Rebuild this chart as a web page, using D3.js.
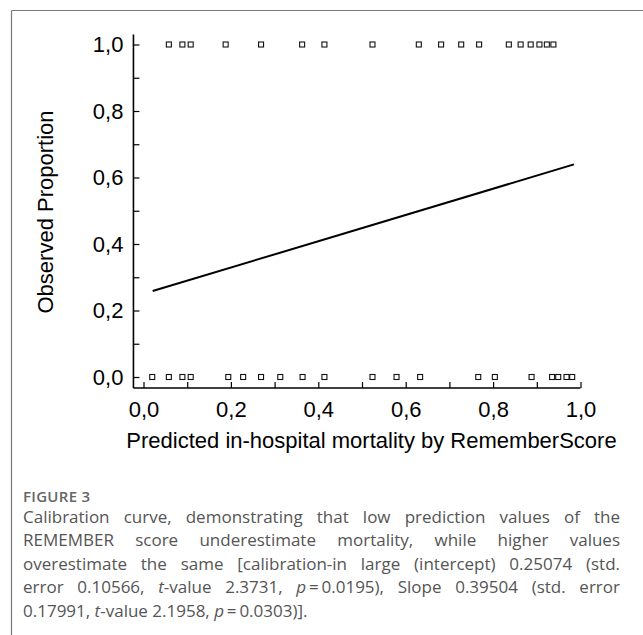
<!DOCTYPE html>
<html>
<head>
<meta charset="utf-8">
<script src="https://cdn.jsdelivr.net/npm/d3@7"></script>
<style>
body { margin: 0; background: #fff; }
#wrap { position: relative; width: 643px; height: 635px; overflow: hidden; }
#wrap svg { position: absolute; left: 0; top: 0; }
.fig { position: absolute; left: 23px; top: 486px; font-family: "Open Sans"; font-size: 15px; font-weight: 600; color: #666; letter-spacing: 0.3px; }
.cap { position: absolute; left: 23px; width: 597px; font-family: "Open Sans"; font-size: 17px; color: #555; white-space: nowrap; }
.cap.j { text-align: justify; text-align-last: justify; white-space: normal; }
</style>
</head>
<body>
<div id="wrap"></div>
<script>
/// calibration plot ///

// observed = 1 (deaths), predicted values
const topX = [0.058, 0.089, 0.108, 0.188, 0.269, 0.363, 0.414, 0.524, 0.630, 0.681,
              0.727, 0.768, 0.836, 0.863, 0.886, 0.906, 0.923, 0.938];
// observed = 0 (survivors)
const bottomX = [0.020, 0.058, 0.089, 0.108, 0.194, 0.228, 0.269, 0.313, 0.364, 0.414,
                 0.524, 0.579, 0.633, 0.766, 0.804, 0.888, 0.935, 0.949, 0.968, 0.981];
// fitted calibration line
const fitLine = [{x: 0.021, y: 0.2585}, {x: 0.985, y: 0.6395}];

const tickVals = [0, 0.1, 0.2, 0.3, 0.4, 0.5, 0.6, 0.7, 0.8, 0.9, 1.0];
const labelVals = [0, 0.2, 0.4, 0.6, 0.8, 1.0];
const xLabel = "Predicted in-hospital mortality by RememberScore";
const yLabel = "Observed Proportion";

const figTitle = "FIGURE 3";
const captionLines = [
    "Calibration curve, demonstrating that low prediction values of the",
    "REMEMBER score underestimate mortality, while higher values",
    "overestimate the same [calibration-in large (intercept) 0.25074 (std.",
    "error 0.10566, <i>t</i>-value 2.3731, <i>p</i>\u2009=\u20090.0195), Slope 0.39504 (std. error",
    "0.17991, <i>t</i>-value 2.1958, <i>p</i>\u2009=\u20090.0303)]."
];

const W = 643, H = 635;
const font = "'Liberation Sans', Arial, sans-serif";

let wrap = d3.select("#wrap");
let svg = wrap.append("svg").attr("width", W).attr("height", H);

// panel frame (top + left only visible)
svg.append("line").attr("x1", 11.5).attr("x2", W).attr("y1", 10.5).attr("y2", 10.5)
    .attr("stroke", "#7a7a7a").attr("stroke-width", 1.2);
svg.append("line").attr("x1", 11.5).attr("x2", 11.5).attr("y1", 10.5).attr("y2", H)
    .attr("stroke", "#7a7a7a").attr("stroke-width", 1.2);

let x = d3.scaleLinear().domain([0, 1]).range([143.5, 580.5]);
let y = d3.scaleLinear().domain([0, 1]).range([377, 44.5]);

const fmt = d => labelVals.some(v => Math.abs(v - d) < 1e-9) ? d3.format(".1f")(d).replace(".", ",") : "";

// x axis
let gx = svg.append("g").attr("transform", `translate(0,${y(-0.033)})`)
    .call(d3.axisBottom(x).tickValues(tickVals).tickSize(-6).tickPadding(13).tickFormat(fmt));
gx.select(".domain").remove();
gx.selectAll(".tick line").attr("stroke", "#000").attr("stroke-width", 1.2);
gx.selectAll(".tick text").attr("font-family", font).attr("font-size", 22).attr("fill", "#000");
gx.append("line").attr("x1", x(-0.023)).attr("x2", x(1)).attr("stroke", "#000").attr("stroke-width", 1.6);

// y axis
let gy = svg.append("g").attr("transform", `translate(${x(-0.023)},0)`)
    .call(d3.axisLeft(y).tickValues(tickVals).tickSize(-6).tickPadding(10).tickFormat(fmt));
gy.select(".domain").remove();
gy.selectAll(".tick line").attr("stroke", "#000").attr("stroke-width", 1.2);
gy.selectAll(".tick text").attr("font-family", font).attr("font-size", 22).attr("fill", "#000");
gy.append("line").attr("y1", y(1.03)).attr("y2", y(-0.033)).attr("stroke", "#000").attr("stroke-width", 1.6);

// axis titles
svg.append("text").attr("x", 371.5).attr("y", 448).attr("text-anchor", "middle")
    .attr("font-family", font).attr("font-size", 22).text(xLabel);
svg.append("text").attr("transform", "translate(53,212) rotate(-90)").attr("text-anchor", "middle")
    .attr("font-family", font).attr("font-size", 22).text(yLabel);

// fitted line
svg.append("path").datum(fitLine)
    .attr("d", d3.line().x(d => x(d.x)).y(d => y(d.y)))
    .attr("stroke", "#000").attr("stroke-width", 2).attr("fill", "none");

// observed points as hollow squares
const sq = 5;
function drawRow(vals, obs) {
    svg.append("g").selectAll("rect").data(vals).join("rect")
        .attr("x", d => x(d) - sq / 2).attr("y", y(obs) - sq / 2)
        .attr("width", sq).attr("height", sq)
        .attr("fill", "none").attr("stroke", "#111").attr("stroke-width", 1.1);
}
drawRow(topX, 1);
drawRow(bottomX, 0);

// caption
wrap.append("div").attr("class", "fig").text(figTitle);
captionLines.forEach((t, i) => {
    wrap.append("div")
        .attr("class", i < captionLines.length - 1 ? "cap j" : "cap")
        .style("top", (505 + i * 23.4) + "px")
        .html(t);
});
</script>
</body>
</html>
